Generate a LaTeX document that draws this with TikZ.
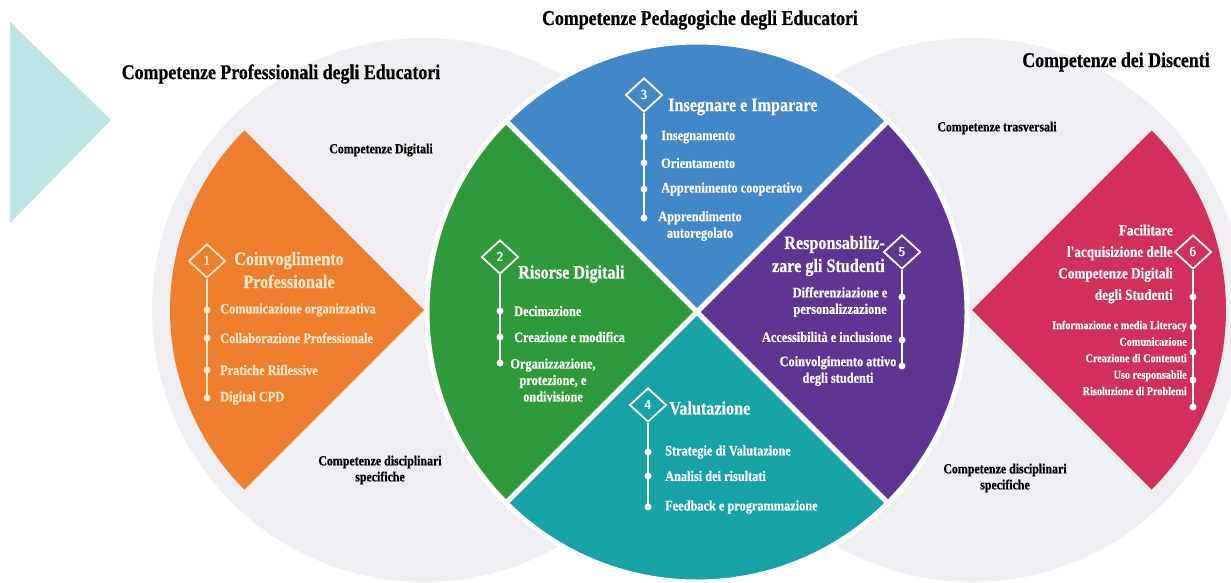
\documentclass[tikz,border=0pt]{standalone}
\usepackage{fontspec}
\usetikzlibrary{shapes.geometric}
\newfontfamily\condserif[FakeStretch=0.85,BoldFeatures={FakeBold=0.6}]{Liberation Serif}
\newcommand{\fsz}[2]{\fontsize{#1}{#2}\selectfont}
\definecolor{fogC}{HTML}{EFEFF3}
\definecolor{cyanC}{HTML}{BFE4E5}
\definecolor{orangeC}{HTML}{EE7F2E}
\definecolor{greenC}{HTML}{2F9A3B}
\definecolor{blueC}{HTML}{4287C8}
\definecolor{tealC}{HTML}{17A2A5}
\definecolor{purpleC}{HTML}{5E3591}
\definecolor{redC}{HTML}{D1305A}
\definecolor{creamC}{HTML}{FCE9CC}
\tikzset{
  headtitle/.style={font=\condserif\bfseries\fsz{21}{25},text=black,inner sep=0pt},
  zonelabel/.style={font=\condserif\bfseries\fsz{14}{16},text=black,align=center,inner sep=0pt},
  badge/.style={diamond,draw=white,line width=1.8pt,minimum width=37pt,minimum height=34pt,
                inner sep=0pt,text=white,font=\sffamily\bfseries\fsz{13}{13}},
  heading/.style={font=\condserif\bfseries\fsz{19}{23},text=white,inner sep=0pt},
  entry/.style={font=\condserif\bfseries\fsz{14.5}{16.5},text=white,inner sep=0pt},
  itemdot/.style={circle,fill=white,inner sep=0pt,minimum size=7pt},
  spine/.style={draw=white,line width=1.6pt}
}

\begin{document}
\begin{tikzpicture}[x=1pt,y=1pt]
  \useasboundingbox (0,0) rectangle (1231,-583);
  \clip (0,0) rectangle (1231,-583);
  \fill[white] (0,0) rectangle (1231,-583);

  % backdrop: arrow tip and the two outer discs
  \fill[cyanC] (10,-22) -- (111,-120) -- (10,-223) -- cycle;
  \coordinate (lc) at (424,-310);
  \coordinate (cc) at (697,-312);
  \coordinate (rc) at (972,-310);
  \fill[fogC] (lc) circle[radius=272];
  \fill[fogC] (rc) circle[radius=272];

  % middle disc, four quarters
  \foreach \a/\c in {45/blueC,135/greenC,225/tealC,315/purpleC}
    \filldraw[fill=\c,draw=white,line width=5pt,line join=round]
      (cc) -- ++(\a:270) arc[start angle=\a,delta angle=90,radius=270] -- cycle;

  % side wedges
  \fill[orangeC] (lc) -- ++(135:254) arc[start angle=135,end angle=225,radius=254] -- cycle;
  \fill[redC] (rc) -- ++(-45:254) arc[start angle=-45,end angle=45,radius=254] -- cycle;

  % titles and zone labels
  \node[headtitle] (tped) at (700,-20) {Competenze Pedagogiche degli Educatori};
  \node[headtitle] (tprof) at (281,-74) {Competenze Professionali degli Educatori};
  \node[headtitle] (tdisc) at (1116,-62) {Competenze dei Discenti};
  \node[zonelabel] (ldig) at (381,-150) {Competenze Digitali};
  \node[zonelabel] (ldisl) at (380,-470) {Competenze disciplinari\\specifiche};
  \node[zonelabel] (ltras) at (997,-128) {Competenze trasversali};
  \node[zonelabel] (ldisr) at (1005,-478) {Competenze disciplinari\\specifiche};

  % 1 - orange
  \node[badge,draw=creamC,text=creamC] (b1) at (207,-261) {1};
  \node[heading,align=center,text=creamC] (h1) at (289,-270) {Coinvoglimento\\Professionale};
  \node[entry,anchor=west,text=creamC] (i1a) at (220,-310) {Comunicazione organizzativa};
  \node[entry,anchor=west,text=creamC] (i1b) at (220,-338) {Collaborazione Professionale};
  \node[entry,anchor=west,text=creamC] (i1c) at (220,-370) {Pratiche Riflessive};
  \node[entry,anchor=west,text=creamC] (i1d) at (220,-398) {Digital CPD};
  \draw[spine,draw=creamC] (b1.south) -- (207,-398) coordinate (e1);
  \foreach \y [count=\k] in {310,338,370,398}
    \node[itemdot,fill=creamC] (d1\k) at (207,-\y) {};

  % 2 - green
  \node[badge] (b2) at (500,-257) {2};
  \node[heading,anchor=west] (h2) at (518,-274) {Risorse Digitali};
  \node[entry,anchor=west] (i2a) at (514,-311) {Decimazione};
  \node[entry,anchor=west] (i2b) at (514,-337) {Creazione e modifica};
  \node[entry,align=center] (i2c) at (553,-380) {Organizzazione,\\protezione, e\\ondivisione};
  \draw[spine] (b2.south) -- (500,-363) coordinate (e2);
  \foreach \y [count=\k] in {311,337,363}
    \node[itemdot] (d2\k) at (500,-\y) {};

  % 3 - blue
  \node[badge] (b3) at (644,-95) {3};
  \node[heading,anchor=west] (h3) at (668,-107) {Insegnare e Imparare};
  \node[entry,anchor=west] (i3a) at (661,-137) {Insegnamento};
  \node[entry,anchor=west] (i3b) at (661,-163) {Orientamento};
  \node[entry,anchor=west] (i3c) at (661,-189) {Apprenimento cooperativo};
  \node[entry,align=center] (i3d) at (700,-226) {Apprendimento\\autoregolato};
  \draw[spine] (b3.south) -- (644,-218) coordinate (e3);
  \foreach \y [count=\k] in {137,163,189,218}
    \node[itemdot] (d3\k) at (644,-\y) {};

  % 4 - teal
  \node[badge] (b4) at (648,-405) {4};
  \node[heading,anchor=west] (h4) at (669,-408) {Valutazione};
  \node[entry,anchor=west] (i4a) at (665,-452) {Strategie di Valutazione};
  \node[entry,anchor=west] (i4b) at (665,-476) {Analisi dei risultati};
  \node[entry,anchor=west] (i4c) at (665,-507) {Feedback e programmazione};
  \draw[spine] (b4.south) -- (648,-507) coordinate (e4);
  \foreach \y [count=\k] in {452,476,507}
    \node[itemdot] (d4\k) at (648,-\y) {};

  % 5 - purple
  \node[badge] (b5) at (902,-252) {5};
  \node[heading,align=right,anchor=east] (h5) at (885,-256) {Responsabiliz-\\zare gli Studenti};
  \node[entry,align=center] (i5a) at (840,-302) {Differenziazione e\\personalizzazione};
  \node[entry,align=center] (i5b) at (827,-337) {Accessibilità e inclusione};
  \node[entry,align=center] (i5c) at (838,-371) {Coinvolgimento attivo\\degli studenti};
  \draw[spine] (b5.south) -- (902,-366) coordinate (e5);
  \foreach \y [count=\k] in {297,340,366}
    \node[itemdot] (d5\k) at (902,-\y) {};

  % 6 - red
  \node[badge] (b6) at (1193,-252) {6};
  \node[heading,align=right,anchor=east,font=\condserif\bfseries\fsz{15.5}{21.5}] (h6) at (1173,-264)
    {Facilitare\\l'acquisizione delle\\Competenze Digitali\\degli Studenti};
  \node[entry,align=right,anchor=east,font=\condserif\bfseries\fsz{12}{16.5}] (i6) at (1187,-358)
    {Informazione e media Literacy\\Comunicazione\\Creazione di Contenuti\\Uso responsabile\\Risoluzione di Problemi};
  \draw[spine] (b6.south) -- (1193,-407) coordinate (e6);
  \foreach \y [count=\k] in {297,327,352,380,407}
    \node[itemdot] (d6\k) at (1193,-\y) {};
\end{tikzpicture}
\end{document}
